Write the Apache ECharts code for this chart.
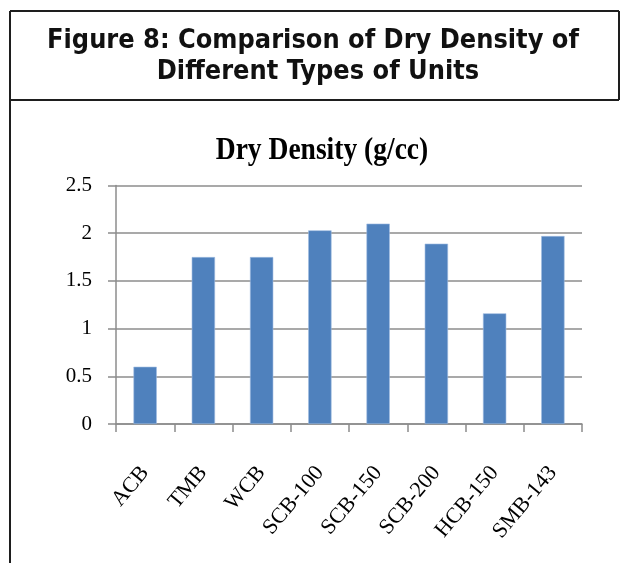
<!DOCTYPE html>
<html>
<head>
<meta charset="utf-8">
<style>
  html, body { margin: 0; padding: 0; background: #fff; }
  #chart { width: 621px; height: 563px; }
</style>
<script src="https://cdn.jsdelivr.net/npm/echarts@6/dist/echarts.min.js"></script>
</head>
<body>
<div id="chart"></div>
<script>
// Unit types on the category axis
const categories = ['ACB', 'TMB', 'WCB', 'SCB-100', 'SCB-150', 'SCB-200', 'HCB-150', 'SMB-143'];
// Dry density of each unit type, g/cc
const dryDensity = [0.6, 1.75, 1.75, 2.03, 2.1, 1.89, 1.16, 1.97];
// Value axis range and step
const yMin = 0;
const yMax = 2.5;
const yStep = 0.5;

const figureTitle = ['Figure 8: Comparison of Dry Density of', 'Different Types of Units'];
const chartTitle = 'Dry Density (g/cc)';

const chart = echarts.init(document.getElementById('chart'), null, { renderer: 'canvas' });

const frame = { stroke: '#1e1e1e', lineWidth: 2 };
const gridGray = '#8c8c8c';
const serif = '"Liberation Serif", "Times New Roman", serif';

chart.setOption({
  backgroundColor: '#ffffff',
  animation: false,
  grid: { left: 116, right: 39, top: 185.5, bottom: 139, containLabel: false },
  graphic: [
    // header box and the left edge of the chart panel
    { type: 'line', shape: { x1: 10, y1: 11, x2: 619, y2: 11 }, style: frame, silent: true },
    { type: 'line', shape: { x1: 10, y1: 100, x2: 619, y2: 100 }, style: frame, silent: true },
    { type: 'line', shape: { x1: 619, y1: 11, x2: 619, y2: 100 }, style: frame, silent: true },
    { type: 'line', shape: { x1: 10, y1: 11, x2: 10, y2: 563 }, style: frame, silent: true },
    {
      type: 'text', x: 313, y: 41, scaleX: 0.93,
      style: { text: figureTitle[0], font: 'bold 26px "DejaVu Sans", sans-serif', fill: '#111', textAlign: 'center', textVerticalAlign: 'middle' },
      silent: true
    },
    {
      type: 'text', x: 318, y: 72, scaleX: 0.93,
      style: { text: figureTitle[1], font: 'bold 26px "DejaVu Sans", sans-serif', fill: '#111', textAlign: 'center', textVerticalAlign: 'middle' },
      silent: true
    },
    {
      type: 'text', x: 322, y: 151, scaleX: 0.86,
      style: { text: chartTitle, font: 'bold 32px ' + serif, fill: '#000', textAlign: 'center', textVerticalAlign: 'middle' },
      silent: true
    }
  ],
  xAxis: {
    type: 'category',
    data: categories,
    boundaryGap: true,
    axisLine: { show: true, lineStyle: { color: gridGray, width: 1.5 } },
    axisTick: { show: true, length: 8, inside: false, alignWithLabel: false, lineStyle: { color: gridGray, width: 1.5 } },
    axisLabel: {
      rotate: 50,
      margin: 45,
      interval: 0,
      color: '#000',
      fontFamily: serif,
      fontSize: 22
    },
    splitLine: { show: false }
  },
  yAxis: {
    type: 'value',
    min: yMin,
    max: yMax,
    interval: yStep,
    axisLine: { show: true, lineStyle: { color: gridGray, width: 1.5 } },
    axisTick: { show: true, length: 8, lineStyle: { color: gridGray, width: 1.5 } },
    axisLabel: {
      margin: 24,
      color: '#000',
      fontFamily: serif,
      fontSize: 21
    },
    splitLine: { show: true, lineStyle: { color: gridGray, width: 1.5 } }
  },
  series: [{
    type: 'bar',
    data: dryDensity,
    barWidth: '40%',
    itemStyle: { color: '#4f81bd', borderColor: '#9dbbe0', borderWidth: 0.6 }
  }]
});
</script>
</body>
</html>
